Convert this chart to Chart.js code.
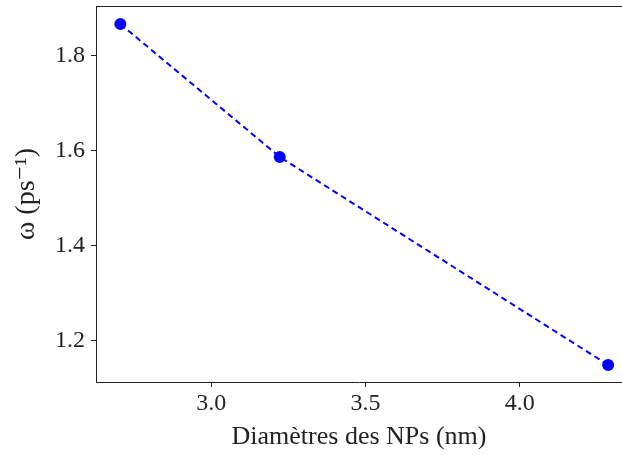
<!DOCTYPE html>
<html>
<head>
<meta charset="utf-8">
<script src="https://cdn.jsdelivr.net/npm/chart.js@4.4.0/dist/chart.umd.min.js"></script>
<style>
  html, body { margin: 0; padding: 0; background: #fff; }
  #wrap { width: 622px; height: 455px; }
</style>
</head>
<body>
<div id="wrap"><canvas id="chart"></canvas></div>
<script>
// Data
const diameters = [2.705, 3.222, 4.287];
const omega = [1.867, 1.587, 1.149];
const xTicks = [3.0, 3.5, 4.0];
const yTicks = [1.2, 1.4, 1.6, 1.8];

const serif = '"Liberation Serif", "DejaVu Serif", serif';

// draw the top spine (matplotlib box)
const topSpine = {
  id: 'topSpine',
  afterDraw(chart) {
    const { ctx, chartArea } = chart;
    ctx.save();
    ctx.strokeStyle = '#222';
    ctx.lineWidth = 1;
    ctx.beginPath();
    ctx.moveTo(chartArea.left, chartArea.top + 0.5);
    ctx.lineTo(chartArea.right, chartArea.top + 0.5);
    ctx.stroke();
    ctx.restore();
  }
};

new Chart(document.getElementById('chart'), {
  type: 'line',
  data: {
    datasets: [{
      data: diameters.map((d, i) => ({ x: d, y: omega[i] })),
      borderColor: '#0000ff',
      backgroundColor: '#0000ff',
      borderWidth: 2,
      borderDash: [6, 4],
      pointRadius: 5,
      pointHoverRadius: 5,
      tension: 0,
      fill: false,
      clip: false
    }]
  },
  options: {
    responsive: true,
    maintainAspectRatio: false,
    animation: false,
    layout: { autoPadding: false, padding: { top: 6, right: 0, bottom: 0, left: 0 } },
    plugins: {
      legend: { display: false },
      tooltip: { enabled: false }
    },
    scales: {
      x: {
        type: 'linear',
        min: 2.626,
        max: 4.332,
        afterBuildTicks: scale => { scale.ticks = xTicks.map(v => ({ value: v })); },
        afterFit: scale => {
          scale.height = 73;
          scale.paddingLeft = 0;
          scale.paddingRight = 0;
        },
        ticks: {
          color: '#222',
          font: { family: serif, size: 24 },
          padding: 2,
          callback: v => v.toFixed(1)
        },
        grid: { drawOnChartArea: false, drawTicks: true, tickLength: 5, color: '#222' },
        border: { display: true, color: '#222', width: 1 },
        title: {
          display: true,
          text: 'Diamètres des NPs (nm)',
          color: '#222',
          font: { family: serif, size: 26 },
          padding: { top: 0, bottom: 2 }
        }
      },
      y: {
        type: 'linear',
        min: 1.113,
        max: 1.905,
        afterBuildTicks: scale => { scale.ticks = yTicks.map(v => ({ value: v })); },
        afterFit: scale => {
          scale.width = 96;
          scale.paddingTop = 0;
          scale.paddingBottom = 0;
        },
        ticks: {
          color: '#222',
          font: { family: serif, size: 24 },
          padding: 6,
          callback: v => v.toFixed(1)
        },
        grid: { drawOnChartArea: false, drawTicks: true, tickLength: 5, color: '#222' },
        border: { display: true, color: '#222', width: 1 },
        title: {
          display: true,
          text: 'ω (ps⁻¹)',
          color: '#222',
          font: { family: serif, size: 28 },
          padding: { top: 10, bottom: 4 }
        }
      }
    }
  },
  plugins: [topSpine]
});
</script>
</body>
</html>
